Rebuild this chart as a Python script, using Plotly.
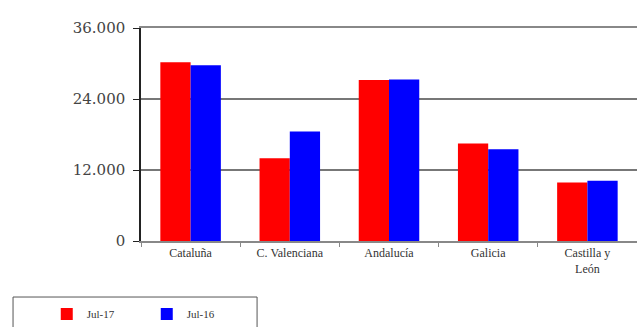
import plotly.graph_objects as go

regiones = ['Cataluña', 'C. Valenciana', 'Andalucía', 'Galicia', 'Castilla y<br>León']
jul17 = [30200, 14000, 27200, 16500, 9900]
jul16 = [29700, 18500, 27300, 15500, 10200]

fig = go.Figure()
fig.add_trace(go.Bar(x=regiones, y=jul17, name='Jul-17', marker=dict(color='#ff0000', line=dict(width=0))))
fig.add_trace(go.Bar(x=regiones, y=jul16, name='Jul-16', marker=dict(color='#0000ff', line=dict(width=0))))

fig.update_layout(
    width=637, height=327,
    margin=dict(l=141, r=0, t=28, b=86, pad=0, autoexpand=False),
    paper_bgcolor='white', plot_bgcolor='white',
    barmode='group', bargap=0.39, bargroupgap=0,
    separators=',.',
    font=dict(family='Liberation Serif', size=12, color='#333333'),
    showlegend=True,
    legend=dict(orientation='h', x=-0.19, y=-0.275, xanchor='left', yanchor='top',
                font=dict(size=11, color='#333333'), itemwidth=30, entrywidth=55,
                bgcolor='rgba(0,0,0,0)'),
    shapes=[dict(type='rect', xref='paper', yref='paper', x0=-0.258, x1=0.234, y0=-0.55, y1=-0.263,
                 line=dict(color='#555555', width=1), fillcolor='rgba(0,0,0,0)')],
)

fig.update_yaxes(range=[0, 36000], tickvals=[0, 12000, 24000, 36000], tickformat=',d',
                 showgrid=True, gridcolor='#777777', gridwidth=1.5,
                 showline=True, linecolor='#222222', linewidth=1.5,
                 ticks='outside', ticklen=6, tickcolor='#222222', ticklabelstandoff=5,
                 tickfont=dict(family='DejaVu Serif', size=15, color='#444444'),
                 zeroline=False)
fig.update_xaxes(showline=True, mirror=True, linecolor='#888888', linewidth=1.5,
                 ticks='outside', tickson='boundaries', ticklen=4, tickcolor='#888888',
                 tickfont=dict(family='Liberation Serif', size=12, color='#333333'))

fig.write_html("out.html", config={'displayModeBar': False},
               post_script="document.body.style.margin='0';")
